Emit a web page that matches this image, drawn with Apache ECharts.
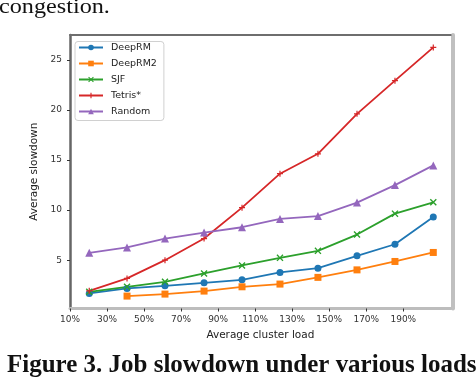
<!DOCTYPE html>
<html>
<head>
<meta charset="utf-8">
<script src="https://cdn.jsdelivr.net/npm/echarts@6/dist/echarts.min.js"></script>
<style>html,body{margin:0;padding:0;background:#fff;}#c{width:476px;height:382px;}</style>
</head>
<body>
<div id="c"></div>
<script>
const loads = [20.4, 40.8, 61.3, 82.4, 102.9, 123.4, 143.9, 165.0, 185.5, 206.2];
const deepRM = [1.68, 2.18, 2.44, 2.74, 3.04, 3.77, 4.20, 5.43, 6.59, 9.31];
const deepRM2 = [null, 1.41, 1.61, 1.91, 2.34, 2.61, 3.28, 4.03, 4.87, 5.77];
const sjf = [1.84, 2.34, 2.84, 3.67, 4.47, 5.23, 5.93, 7.56, 9.65, 10.78];
const tetris = [1.94, 3.18, 5.00, 7.16, 10.25, 13.64, 15.63, 19.62, 22.94, 26.26];
const random = [5.73, 6.27, 7.16, 7.76, 8.29, 9.12, 9.41, 10.75, 12.50, 14.47];
const xTicks = [10, 30, 50, 70, 90, 110, 130, 150, 170, 190];
const yTicks = [5, 10, 15, 20, 25];
const seriesNames = ['DeepRM', 'DeepRM2', 'SJF', 'Tetris*', 'Random'];
const colors = ['#1f77b4', '#ff7f0e', '#2ca02c', '#d62728', '#9467bd'];

const xSym = 'path://M0,1.4L1.4,0L5,3.6L8.6,0L10,1.4L6.4,5L10,8.6L8.6,10L5,6.4L1.4,10L0,8.6L3.6,5Z';
const plusSym = 'path://M4,0H6V4H10V6H6V10H4V6H0V4H4Z';

function pairs(vals) {
  return loads.map((x, i) => vals[i] == null ? null : [x, vals[i]]).filter(p => p);
}
const allVals = [deepRM, deepRM2, sjf, tetris, random];
const symbols = ['circle', 'rect', xSym, plusSym, 'triangle'];
const sizes = [7, 7, 7, 6, 8];

const font = 'DejaVu Sans';
const chart = echarts.init(document.getElementById('c'), null, {renderer: 'canvas'});
chart.setOption({
  animation: false,
  backgroundColor: '#fff',
  grid: {left: 70, right: 25.3, top: 35, bottom: 73.5},
  xAxis: [{
    type: 'value', min: 10, max: 215.6, position: 'bottom',
    name: 'Average cluster load', nameLocation: 'middle', nameGap: 19,
    nameTextStyle: {fontFamily: font, fontSize: 10.5, color: '#222'},
    axisLine: {show: true, lineStyle: {color: '#bdbdbd', width: 3}},
    axisTick: {show: true, length: 3, lineStyle: {color: '#333', width: 1}, customValues: xTicks},
    axisLabel: {fontFamily: font, fontSize: 9, color: '#333', margin: 7, customValues: xTicks,
      formatter: v => v + '%'},
    splitLine: {show: false}
  }, {
    type: 'value', min: 10, max: 215.6, position: 'top',
    axisLine: {show: true, lineStyle: {color: '#6e6e6e', width: 2}},
    axisTick: {show: false}, axisLabel: {show: false}, splitLine: {show: false}
  }],
  yAxis: [{
    type: 'value', min: 0.17, max: 27.5, position: 'left',
    name: 'Average slowdown', nameLocation: 'middle', nameGap: 22,
    nameTextStyle: {fontFamily: font, fontSize: 10.5, color: '#222'},
    axisLine: {show: true, lineStyle: {color: '#666', width: 2.5}},
    axisTick: {show: true, length: 3, lineStyle: {color: '#333', width: 1}, customValues: yTicks},
    axisLabel: {fontFamily: font, fontSize: 9, color: '#333', margin: 8, customValues: yTicks},
    splitLine: {show: false}
  }, {
    type: 'value', min: 0.17, max: 27.5, position: 'right', offset: 2,
    axisLine: {show: true, lineStyle: {color: '#c0c0c0', width: 4}},
    axisTick: {show: false}, axisLabel: {show: false}, splitLine: {show: false}
  }],
  legend: {
    orient: 'vertical', left: 75, top: 41.5,
    data: seriesNames,
    itemWidth: 24, itemHeight: 7, itemGap: 6,
    padding: [1, 7, 4, 3],
    borderColor: '#d0d0d0', borderWidth: 1, borderRadius: 3,
    backgroundColor: 'rgba(255,255,255,0.85)',
    textStyle: {fontFamily: font, fontSize: 9.5, color: '#222', lineHeight: 10, padding: [0, 0, 0, 3]}
  },
  series: seriesNames.map((name, i) => ({
    name: name,
    type: 'line',
    data: pairs(allVals[i]),
    symbol: symbols[i],
    symbolSize: sizes[i],
    showAllSymbol: true,
    lineStyle: {color: colors[i], width: 1.8},
    itemStyle: {color: colors[i], borderWidth: 0}
  })),
  graphic: [
    {type: 'text', x: -1, y: 7, scaleX: 1.1,
      style: {text: 'congestion.', fontFamily: 'Liberation Serif', fontSize: 22, fill: '#111', verticalAlign: 'middle', align: 'left'}},
    {type: 'text', x: 7, y: 366, scaleX: 1.02,
      style: {text: 'Figure 3. Job slowdown under various loads', fontFamily: 'Liberation Serif', fontWeight: 'bold', fontSize: 24.5, fill: '#111', verticalAlign: 'middle', align: 'left'}}
  ]
});
</script>
</body>
</html>
